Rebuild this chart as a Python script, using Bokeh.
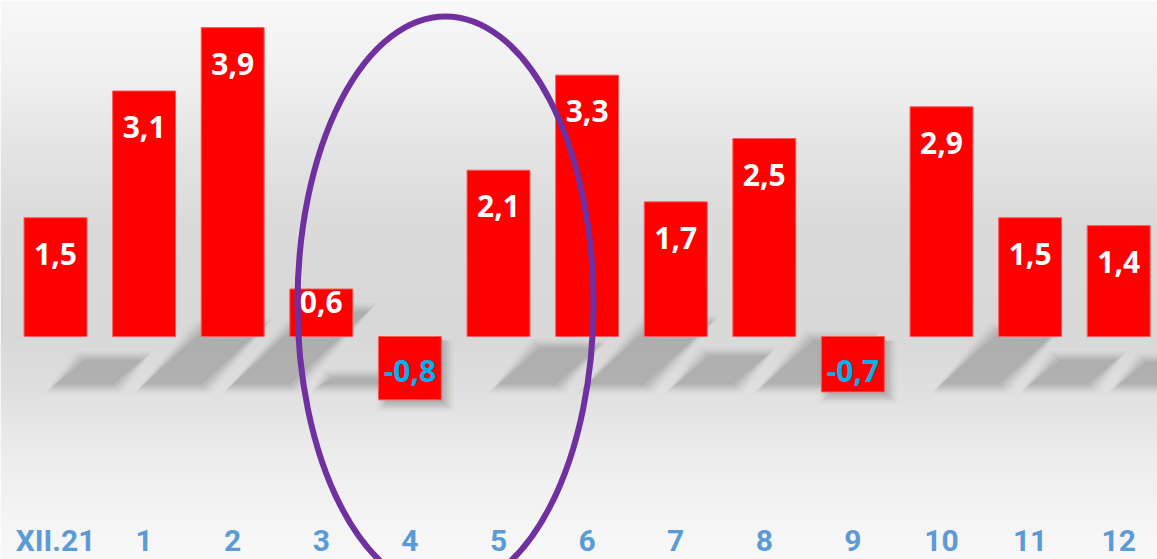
import numpy as np
from bokeh.plotting import figure
from bokeh.models import Range1d, ColumnDataSource
from bokeh.core.properties import value
from bokeh.embed import file_html
from bokeh.resources import INLINE

# ---- data ----
categories = ["XII.21", "1", "2", "3", "4", "5", "6", "7", "8", "9", "10", "11", "12"]
values = [1.5, 3.1, 3.9, 0.6, -0.8, 2.1, 3.3, 1.7, 2.5, -0.7, 2.9, 1.5, 1.4]
value_labels = [f"{v:.1f}".replace(".", ",") for v in values]

# ---- layout constants ----
W, H = 1157, 559
XU, YU = 88.6, 79.2          # pixels per category / per unit
X0, Y0 = 55.0, 336.0         # pixel position of first category / zero line
x_start, x_end = -X0 / XU, (W - X0) / XU
y_start, y_end = (Y0 - H) / YU, Y0 / YU
BAR_W = 0.71

xs = list(range(len(categories)))

p = figure(width=W, height=H, output_backend="svg", toolbar_location=None,
           x_range=Range1d(x_start, x_end), y_range=Range1d(y_start, y_end),
           min_border=0, min_border_left=0, min_border_right=0,
           min_border_top=0, min_border_bottom=0)
p.axis.visible = False
p.grid.visible = False
p.outline_line_color = None
p.background_fill_color = "#ffffff"
p.border_fill_color = "#ffffff"

# ---- background gradient ----
rows = np.arange(H)
stops_px = [0, 60, 150, 220, 330, 380, 450, 520, 559]
stops_gray = [248, 242, 228, 219, 216, 222, 236, 245, 248]
g = np.interp(rows, stops_px, stops_gray).astype(np.uint8)[::-1]
img = np.zeros((H, 2), dtype=np.uint32)
view = img.view(dtype=np.uint8).reshape((H, 2, 4))
view[:, :, 0] = g[:, None]
view[:, :, 1] = g[:, None]
view[:, :, 2] = g[:, None]
view[:, :, 3] = 255
p.image_rgba(image=[img], x=x_start, y=y_start, dw=x_end - x_start, dh=y_end - y_start)

# ---- floor shadows (derived from bar values) ----
yb = -0.64
for grow, alpha in [(0.08, 0.06), (0.05, 0.09), (0.025, 0.12), (0.0, 0.15), (-0.03, 0.18)]:
    sx, sy = [], []
    for x, v in zip(xs, values):
        if v > 0:
            yt = yb + 0.2525 * v
            s = 0.2257 * v
            xl = x - BAR_W / 2 + 0.32
            sx.append([xl - grow, xl + BAR_W + grow, xl + BAR_W + s + grow, xl + s - grow])
            sy.append([yb - grow, yb - grow, yt + grow, yt + grow])
        else:
            sx.append([x - BAR_W / 2 + 0.06 - grow, x + BAR_W / 2 + 0.06 + grow,
                       x + BAR_W / 2 + 0.06 + grow, x - BAR_W / 2 + 0.06 - grow])
            sy.append([v - 0.07 - grow, v - 0.07 - grow, -0.05, -0.05])
    p.patches(sx, sy, fill_color="#808080", fill_alpha=alpha, line_color=None)

# ---- bars ----
src = ColumnDataSource(dict(x=xs, top=values, bottom=[0] * len(values)))
p.vbar(x="x", top="top", bottom="bottom", width=BAR_W, source=src,
       fill_color="#FF0000", line_color="#FF5A5A", line_width=1)

# ---- value labels ----
def label_y(v):
    y = v - np.sign(v) * 0.455
    if abs(y) < 0.43:
        y = np.sign(v) * 0.43
    return y

lab_src = ColumnDataSource(dict(
    x=xs, y=[label_y(v) for v in values], text=value_labels,
    color=["#FFFFFF" if v > 0 else "#00B0F0" for v in values]))
p.text(x="x", y="y", text="text", source=lab_src, text_color="color",
       text_align="center", text_baseline="middle",
       text_font=value("Open Sans"), text_font_style="bold", text_font_size="30px")

# ---- category labels ----
cat_src = ColumnDataSource(dict(x=xs, y=[(Y0 - 540) / YU] * len(xs), text=categories))
p.text(x="x", y="y", text="text", source=cat_src, text_color="#5B9BD5",
       text_align="center", text_baseline="middle",
       text_font=value("Roboto"), text_font_style="bold",
       text_font_size="30px")

# ---- highlight ellipse ----
p.ellipse(x=[(445 - X0) / XU], y=[(Y0 - 303) / YU], width=[296 / XU], height=[574 / YU],
          fill_color=None, line_color="#7030A0", line_width=6)

open("out.html", "w").write(file_html(p, INLINE))
